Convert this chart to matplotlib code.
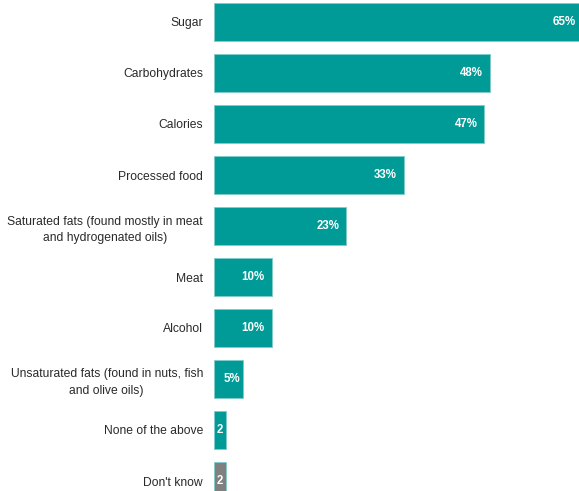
import matplotlib
matplotlib.use("Agg")
import matplotlib.pyplot as plt
from matplotlib import font_manager

categories = [
    "Sugar",
    "Carbohydrates",
    "Calories",
    "Processed food",
    "Saturated fats (found mostly in meat\nand hydrogenated oils)",
    "Meat",
    "Alcohol",
    "Unsaturated fats (found in nuts, fish\nand olive oils)",
    "None of the above",
    "Don't know",
]
values = [65, 48, 47, 33, 23, 10, 10, 5, 2, 2]
value_labels = ["65%", "48%", "47%", "33%", "23%", "10%", "10%", "5%", "2", "2"]
colors = ["#009b96"] * 9 + ["#808080"]

names = {f.name for f in font_manager.fontManager.ttflist}
fam = "Liberation Sans Narrow" if "Liberation Sans Narrow" in names else "Liberation Sans"
plt.rcParams["font.family"] = [fam, "DejaVu Sans"]

W, H, dpi = 579, 491, 100
fig = plt.figure(figsize=(W / dpi, H / dpi), dpi=dpi)
x0 = 214
ax = fig.add_axes([x0 / W, 0, 1 - x0 / W, 1])

pos = list(range(len(categories)))
ax.barh(pos, values, height=0.75, color=colors, edgecolor="#7fcdca", linewidth=0.6)

# 22px from top to first centre, 51px between centres
ax.set_ylim((H - 22) / 51, -22 / 51)
xmax = (W - x0) / 5.75
ax.set_xlim(0, xmax)

ax.set_yticks(pos)
ax.set_yticklabels(categories, fontsize=8.7, color="#2a2a2a")
for t in ax.get_yticklabels():
    t.set_multialignment("center")
    t.set_linespacing(1.45)
ax.tick_params(axis="y", length=0, pad=8)
ax.set_xticks([])
for s in ax.spines.values():
    s.set_visible(False)

for p, v, lab in zip(pos, values, value_labels):
    if v < 5:
        ax.annotate(lab, (v / 2, p), ha="center", va="center", color="white",
                    fontsize=8.3, fontweight="bold")
    else:
        x = min(v, xmax)
        off = -2 if (v <= 5 or v > xmax) else -5
        ax.annotate(lab, (x, p), xytext=(off, 0), textcoords="offset points",
                    ha="right", va="center", color="white", fontsize=8.3,
                    fontweight="bold", annotation_clip=False)

fig.savefig("out.png", dpi=dpi)
